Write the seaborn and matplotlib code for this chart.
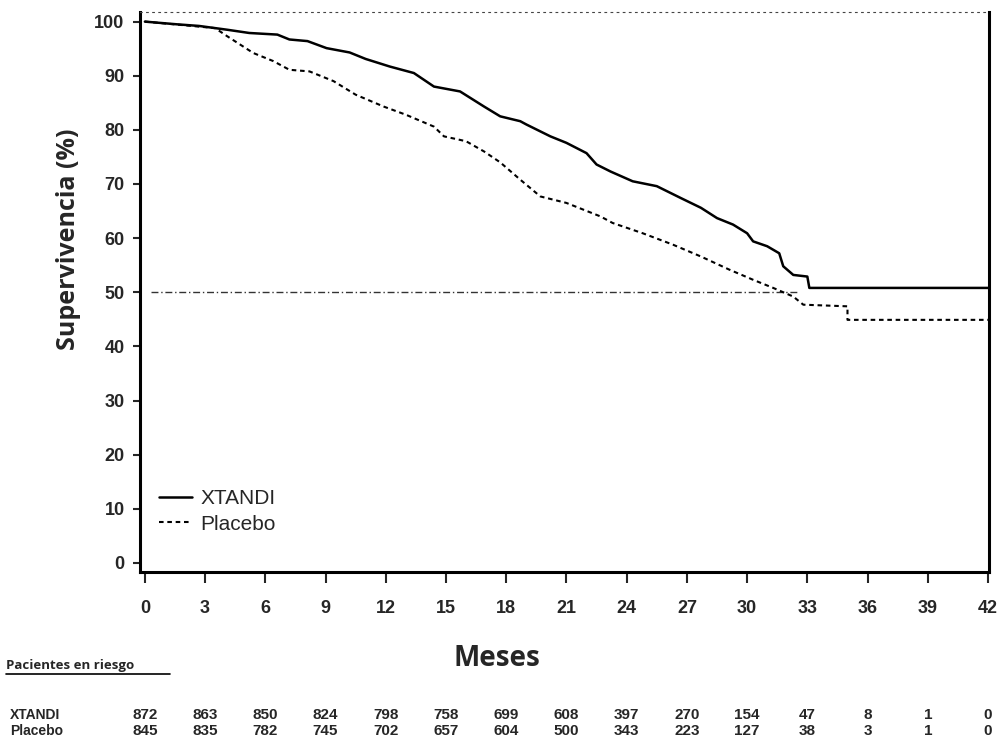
import numpy as np
import pandas as pd
import seaborn as sns
import matplotlib.pyplot as plt
from matplotlib.lines import Line2D

# Kaplan-Meier curves (months, % survival)
xtandi_months = [0, 1.6, 2.7, 4.1, 5.2, 6.6, 7.2, 8.1, 9.05, 10.2, 11.0, 12.2, 13.4, 14.4, 15.7,
                 16.9, 17.7, 18.7, 19.0, 20.2, 21.0, 22.0, 22.5, 23.2, 24.3, 25.5, 26.7, 27.7,
                 28.5, 29.3, 30.0, 30.3, 31.0, 31.6, 31.8, 32.3, 33.0, 33.1, 42]
xtandi_surv = [100, 99.5, 99.2, 98.5, 97.9, 97.6, 96.7, 96.4, 95.1, 94.3, 93.1, 91.7, 90.5, 88.0, 87.1,
               84.3, 82.5, 81.6, 81.0, 78.8, 77.6, 75.7, 73.6, 72.3, 70.5, 69.6, 67.4, 65.6,
               63.7, 62.5, 60.9, 59.4, 58.5, 57.2, 54.8, 53.2, 52.9, 50.8, 50.8]

placebo_months = [0, 3.5, 4.1, 5.4, 6.4, 7.2, 8.2, 9.4, 10.5, 11.9, 13.0, 14.4, 14.9, 16.0, 16.9,
                  17.7, 18.7, 19.7, 21.0, 22.7, 23.3, 24.8, 26.3, 27.7, 29.1, 30.3, 31.3, 32.3,
                  32.8, 35.0, 35.0, 42]
placebo_surv = [100, 98.8, 97.3, 94.2, 92.7, 91.1, 90.8, 89.0, 86.5, 84.3, 82.8, 80.6, 78.8, 77.9, 76.0,
                74.0, 70.8, 67.7, 66.5, 64.0, 62.8, 60.9, 58.8, 56.6, 54.2, 52.3, 50.8, 49.2,
                47.7, 47.4, 44.9, 44.9]

# patients at risk table
risk_months = [0, 3, 6, 9, 12, 15, 18, 21, 24, 27, 30, 33, 36, 39, 42]
risk_xtandi = [872, 863, 850, 824, 798, 758, 699, 608, 397, 270, 154, 47, 8, 1, 0]
risk_placebo = [845, 835, 782, 745, 702, 657, 604, 500, 343, 223, 127, 38, 3, 1, 0]

median_line_months = [0.3, 32.6]
median_line_level = [50, 50]

sns.set_theme(style='white')
narrow = ['Liberation Sans Narrow', 'Liberation Sans', 'DejaVu Sans']
plt.rcParams['font.family'] = narrow

fig = plt.figure(figsize=(9.99, 7.42), dpi=100)
ax = fig.add_axes([0.140, 0.229, 0.850, 0.755])

xt = pd.DataFrame({'month': xtandi_months, 'surv': xtandi_surv})
pl = pd.DataFrame({'month': placebo_months, 'surv': placebo_surv})

sns.lineplot(data=xt, x='month', y='surv', ax=ax, color='black', linewidth=1.8,
             estimator=None, sort=False, label='XTANDI')
sns.lineplot(data=pl, x='month', y='surv', ax=ax, color='black', linewidth=1.5,
             estimator=None, sort=False, linestyle=(0, (2.2, 1.8)), label='Placebo')
ax.plot(median_line_months, median_line_level, color='black', linewidth=1.0,
        linestyle=(0, (5, 2, 1, 2)), alpha=0.8)

ax.set_xlim(-0.25, 42.05)
ax.set_ylim(-1.7, 101.8)
ax.set_xticks(risk_months)
ax.set_yticks(np.arange(0, 101, 10))
ax.tick_params(axis='x', direction='out', length=8, width=1.5, pad=12, labelsize=13, bottom=True)
ax.tick_params(axis='y', direction='out', length=5, width=1.5, pad=6, labelsize=13, left=True)
for lab in ax.get_xticklabels() + ax.get_yticklabels():
    lab.set_fontweight('bold')

for side in ['left', 'bottom', 'right']:
    ax.spines[side].set_linewidth(2.2)
    ax.spines[side].set_color('black')
ax.spines['top'].set_linewidth(0.8)
ax.spines['top'].set_linestyle((0, (1.5, 4)))
ax.spines['top'].set_color('#444444')

ax.set_xlabel('')
ax.set_ylabel('Supervivencia (%)', fontsize=18, fontweight='bold', family=['Open Sans', 'DejaVu Sans'])
ax.yaxis.set_label_coords(-0.069, 0.595)

leg = ax.legend(loc='lower left', bbox_to_anchor=(0.0, 0.035), frameon=False, fontsize=15,
                handlelength=1.6, handletextpad=0.4, labelspacing=0.3)

fig.text(0.497, 0.113, 'Meses', fontsize=20, fontweight='bold', ha='center', va='center',
         family=['Open Sans', 'DejaVu Sans'])

# risk table
fig.text(0.006, 0.103, 'Pacientes en riesgo', fontsize=9.5, fontweight='bold', ha='left', va='center',
         family=['Open Sans', 'DejaVu Sans'])
fig.add_artist(Line2D([0.006, 0.170], [0.092, 0.092], color='black', linewidth=1.2))

trans = ax.get_xaxis_transform()
for m, a, b in zip(risk_months, risk_xtandi, risk_placebo):
    ax.text(m, -0.255, str(a), transform=trans, ha='center', va='center', fontsize=11,
            fontweight='bold', clip_on=False)
    ax.text(m, -0.283, str(b), transform=trans, ha='center', va='center', fontsize=11,
            fontweight='bold', clip_on=False)
fig.text(0.010, 0.036, 'XTANDI', fontsize=10, fontweight='bold', ha='left', va='center')
fig.text(0.010, 0.015, 'Placebo', fontsize=10, fontweight='bold', ha='left', va='center')

fig.savefig('out.png', dpi=100)
